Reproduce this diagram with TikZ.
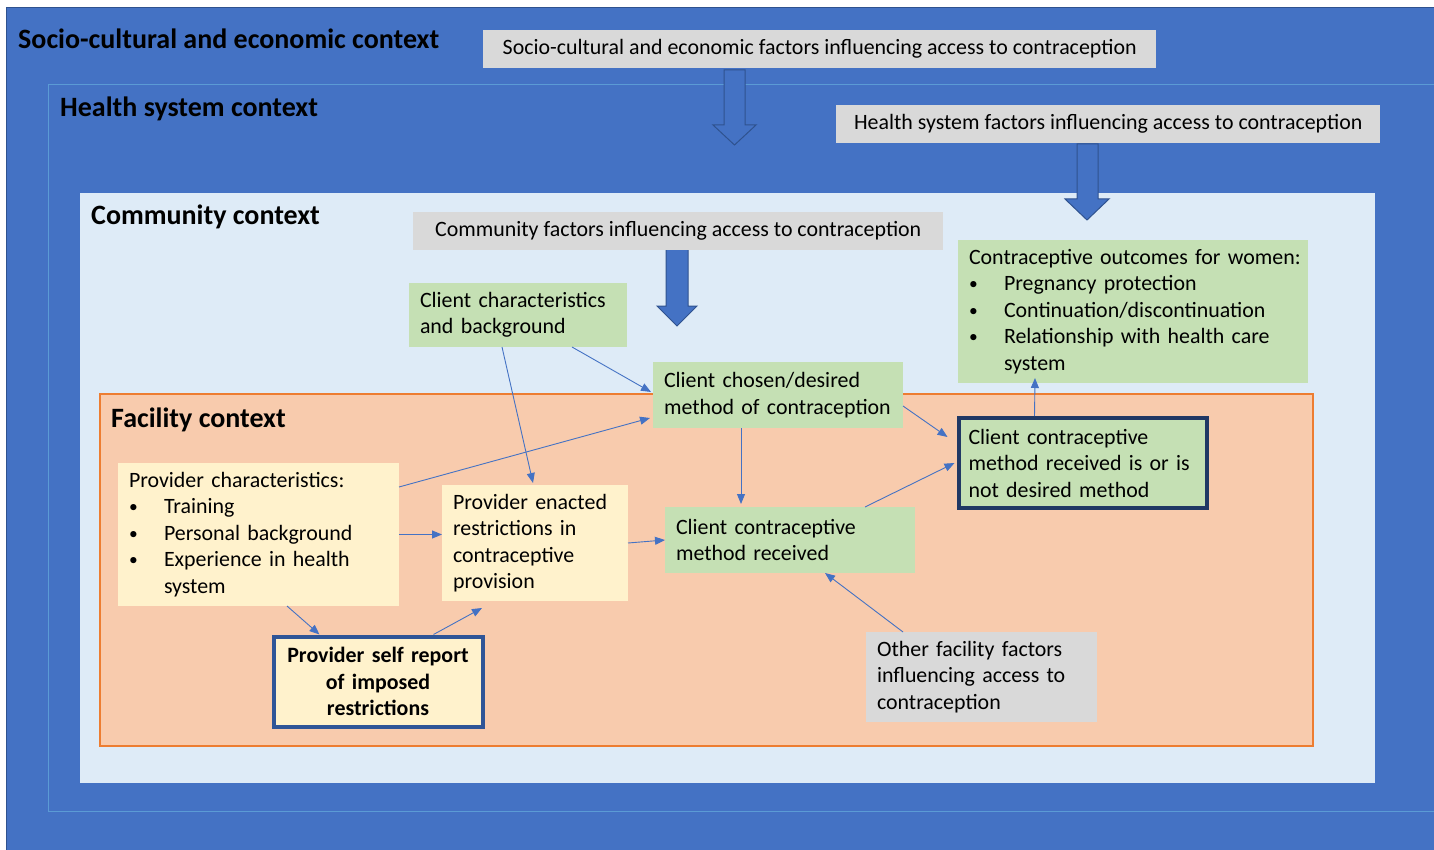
\documentclass[tikz,border=0pt]{standalone}
\usepackage{fontspec}
\setmainfont{Carlito}
\usetikzlibrary{arrows.meta}

\definecolor{ctxblue}{HTML}{4472C4}
\definecolor{ctxline}{HTML}{2F528F}
\definecolor{hsline}{HTML}{5B9BD5}
\definecolor{comfill}{HTML}{DEEBF7}
\definecolor{facfill}{HTML}{F8CBAD}
\definecolor{facline}{HTML}{ED7D31}
\definecolor{greenbox}{HTML}{C5E0B4}
\definecolor{yellowbox}{HTML}{FFF2CC}
\definecolor{greybox}{HTML}{D9D9D9}
\definecolor{navyline}{HTML}{203864}
\definecolor{selfline}{HTML}{2F5597}

\newcommand\boxfont{\fontsize{21.9}{26.5}\selectfont}
\newcommand\titlefont{\fontsize{28}{32}\selectfont\bfseries}
\newcommand\bul{\makebox[35pt][l]{\raisebox{1pt}{\scalebox{0.8}{•}}}}

\tikzset{
  ctxtitle/.style={anchor=base west, inner sep=0pt, font=\titlefont},
  textbox/.style={anchor=north west, inner xsep=11pt, inner ysep=0pt,
                  outer sep=0pt, align=left, font=\boxfont},
  greenb/.style={textbox, fill=greenbox},
  yellowb/.style={textbox, fill=yellowbox},
  factorbox/.style={anchor=north west, inner sep=0pt, fill=greybox,
                    font=\boxfont, align=center},
  blockarrow/.style={draw=ctxline, line width=1pt, fill=ctxblue},
  link/.style={draw=ctxblue, line width=0.9pt,
               -{Triangle[length=10pt,width=8pt]}},
}

\begin{document}
\begin{tikzpicture}[x=1pt, y=-1pt]
  \useasboundingbox (0,0) rectangle (1434,850);
  \fill[white] (0,0) rectangle (1434,850);

  % nested context frames
  \draw[ctxline, fill=ctxblue, line width=0.8pt] (6,7) rectangle (1440,856);
  \draw[hsline, line width=0.8pt] (48,84) rectangle (1440,811);
  \fill[comfill] (80,193) rectangle (1375,783);
  \draw[facline, fill=facfill, line width=1.8pt] (100,394) rectangle (1313,746);

  \node[ctxtitle] (socio) at (18,49) {Socio-cultural and economic context};
  \node[ctxtitle] (hsys) at (60,117) {Health system context};
  \node[ctxtitle] (comm) at (91,225) {Community context};
  \node[ctxtitle] (fac) at (111,427) {Facility context};

  % block arrows
  \draw[blockarrow] (724,70) -- (745,70) -- (745,125) -- (756,125)
        -- (734.5,145) -- (713,125) -- (724,125) -- cycle;
  \draw[blockarrow] (1077,144) -- (1098,144) -- (1098,199) -- (1109,199)
        -- (1087,220) -- (1065,199) -- (1077,199) -- cycle;
  \draw[blockarrow] (666,248) -- (688,248) -- (688,306) -- (697,306)
        -- (677,326) -- (657,306) -- (666,306) -- cycle;

  % factor boxes
  \node[factorbox, minimum width=673pt, minimum height=38pt] (sfac) at (483,30)
        {Socio-cultural and economic factors influencing access to contraception};
  \node[factorbox, minimum width=544pt, minimum height=38pt] (hfac) at (836,105)
        {Health system factors influencing access to contraception};
  \node[factorbox, minimum width=530pt, minimum height=38pt] (cfac) at (413,212)
        {Community factors influencing access to contraception};
  \node[textbox, fill=greybox, text width=209pt, minimum height=90pt] (ofac) at (866,632)
        {Other facility factors\\influencing access to\\contraception};

  % client side
  \node[greenb, text width=196pt, minimum height=64pt] (cchar) at (409,283)
        {Client characteristics\\and background};
  \node[greenb, text width=228pt, minimum height=66pt] (cdes) at (653,362)
        {Client chosen/desired\\method of contraception};
  \node[greenb, text width=228pt, minimum height=66pt] (crec) at (665,507)
        {Client contraceptive\\method received};
  \node[greenb, text width=328pt, minimum height=143pt] (cout) at (958,240)
        {\mbox{Contraceptive outcomes for women:}\\
         \bul Pregnancy protection\\
         \bul Continuation/discontinuation\\
         \bul Relationship with health care\\
         \hspace*{35pt}system};
  \node[greenb, draw=navyline, line width=4pt, inner xsep=10pt,
        text width=228pt, minimum height=90pt] (cmatch) at (958.5,418)
        {Client contraceptive\\method received is or is\\not desired method};

  % provider side
  \node[yellowb, text width=259pt, minimum height=143pt] (pchar) at (118,463)
        {Provider characteristics:\\
         \bul Training\\
         \bul Personal background\\
         \bul Experience in health\\
         \hspace*{35pt}system};
  \node[yellowb, text width=164pt, minimum height=116pt] (penact) at (442,485)
        {Provider enacted\\restrictions in\\contraceptive\\provision};
  \node[yellowb, draw=selfline, line width=4pt, align=center, inner xsep=8pt,
        text width=193pt, minimum height=90pt, font=\boxfont\bfseries] (pself) at (273.5,636.5)
        {Provider self report\\of imposed\\restrictions};

  % links
  \draw[link] ([xshift=163pt]cchar.south west) -- ([xshift=-2pt,yshift=3pt]cdes.west);
  \draw[link] ([xshift=93pt]cchar.south west) -- ([xshift=91pt,yshift=2pt]penact.north west);
  \draw[link] ([yshift=-24pt]pchar.north east) -- ([xshift=-3pt,yshift=10pt]cdes.south west);
  \draw[link] (pchar.east) -- (pchar.east -| penact.west);
  \draw[link] ([xshift=88pt]cdes.south west) -- ([xshift=76pt,yshift=3pt]crec.north west);
  \draw[link] ([yshift=-11pt]cdes.east) -- ([xshift=-11pt,yshift=-19pt]cmatch.north west);
  \draw[link] ([xshift=200pt]crec.north west) -- ([xshift=-4pt]cmatch.west);
  \draw[link] ([xshift=76pt,yshift=2pt]cmatch.north west) -- ([xshift=77pt,yshift=5pt]cout.south west);
  \draw[link] (penact.east) -- (crec.west);
  \draw[link] ([xshift=37pt]ofac.north west) -- ([xshift=160pt]crec.south west);
  \draw[link] ([xshift=169pt]pchar.south west) -- ([xshift=46pt,yshift=2pt]pself.north west);
  \draw[link] ([xshift=160pt,yshift=2pt]pself.north west) -- ([xshift=40pt,yshift=-7pt]penact.south west);
\end{tikzpicture}
\end{document}
